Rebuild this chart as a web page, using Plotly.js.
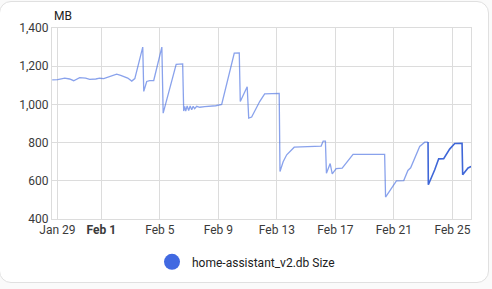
<!DOCTYPE html>
<html>
<head>
<meta charset="utf-8">
<script src="https://cdn.plot.ly/plotly-3.0.1.min.js"></script>
<style>
  html, body { margin: 0; padding: 0; background: #fafafa; }
  #card { position: absolute; left: -1px; top: 1px; width: 488px; height: 280px;
          background: #ffffff; border: 1px solid #e0e0e0; border-radius: 12px; }
  #chart { position: absolute; left: 0; top: 0; width: 492px; height: 289px; }
</style>
</head>
<body>
<div id="card"></div>
<div id="chart"></div>
<script>
// Database size (MB), older hourly statistics
const olderTimes = [
  "2024-01-28 15:30","2024-01-29 00:30","2024-01-29 12:00","2024-01-29 20:00","2024-01-30 02:40",
  "2024-01-30 12:30","2024-01-30 22:20","2024-01-31 05:00","2024-01-31 15:00","2024-01-31 21:20",
  "2024-02-01 04:00","2024-02-01 13:50","2024-02-01 20:20","2024-02-02 01:10","2024-02-02 07:50",
  "2024-02-02 14:30","2024-02-02 19:20","2024-02-03 02:00","2024-02-03 07:00","2024-02-03 20:00",
  "2024-02-03 21:40","2024-02-04 02:30","2024-02-04 07:30","2024-02-04 14:00","2024-02-05 03:20",
  "2024-02-05 05:30","2024-02-06 02:50","2024-02-06 13:30","2024-02-06 15:10","2024-02-06 16:50",
  "2024-02-06 18:30","2024-02-06 20:50","2024-02-06 23:20","2024-02-07 01:50","2024-02-07 04:20",
  "2024-02-07 06:40","2024-02-07 09:10","2024-02-07 12:30","2024-02-07 17:30","2024-02-08 01:40",
  "2024-02-08 09:50","2024-02-08 19:40","2024-02-09 05:30","2024-02-10 02:10","2024-02-10 10:20",
  "2024-02-10 12:00","2024-02-10 23:20","2024-02-11 01:50","2024-02-11 06:40","2024-02-11 19:50",
  "2024-02-12 04:00","2024-02-13 03:50","2024-02-13 05:10","2024-02-13 10:20","2024-02-13 16:10",
  "2024-02-14 04:30","2024-02-16 00:40","2024-02-16 04:00","2024-02-16 07:40","2024-02-16 09:20",
  "2024-02-16 15:30","2024-02-16 18:50","2024-02-17 01:20","2024-02-17 11:10","2024-02-18 05:00",
  "2024-02-20 08:50","2024-02-20 10:20","2024-02-20 20:00","2024-02-21 04:10","2024-02-21 16:10",
  "2024-02-21 23:00","2024-02-22 03:30","2024-02-22 10:10","2024-02-22 18:20","2024-02-23 02:40",
  "2024-02-23 08:00"
];
const olderValues = [
  1128,1130,1137,1133,1124,
  1140,1138,1131,1133,1137,
  1135,1144,1152,1158,1152,
  1145,1138,1122,1135,1300,
  1068,1120,1124,1125,1300,
  954,1210,1212,965,990,
  965,992,968,992,972,
  990,978,990,985,988,
  990,993,1000,1268,1270,
  1015,1092,928,934,1015,
  1055,1058,649,700,736,
  776,782,808,808,640,
  690,636,664,666,738,
  738,515,562,600,601,
  654,668,719,780,802,
  803
];
// Database size (MB), recent short-term statistics
const recentTimes = [
  "2024-02-23 08:00","2024-02-23 08:30","2024-02-23 19:00","2024-02-24 01:30","2024-02-24 09:40",
  "2024-02-24 19:30","2024-02-25 03:50","2024-02-25 15:50","2024-02-25 16:50","2024-02-26 01:40",
  "2024-02-26 06:40"
];
const recentValues = [803,579,658,715,716,766,795,796,632,667,675];

const tickDates = ["2024-01-29","2024-02-01","2024-02-05","2024-02-09","2024-02-13","2024-02-17","2024-02-21","2024-02-25"];
const tickLabels = ["Jan 29","<b>Feb 1</b>","Feb 5","Feb 9","Feb 13","Feb 17","Feb 21","Feb 25"];
const yTicks = [400,600,800,1000,1200,1400];
const seriesName = "home-assistant_v2.db Size";
const unitLabel = "MB";

const traces = [
  { type: "scatter", mode: "lines", x: olderTimes, y: olderValues, showlegend: false,
    line: { color: "rgba(65,105,225,0.62)", width: 1.3 }, hoverinfo: "skip" },
  { type: "scatter", mode: "lines", x: recentTimes, y: recentValues, showlegend: false,
    line: { color: "#3f67d8", width: 1.6 }, hoverinfo: "skip" },
  { type: "scatter", mode: "markers", x: [null], y: [null], name: seriesName, showlegend: true,
    marker: { color: "#4169e1", size: 16, symbol: "circle" } }
];

const layout = {
  width: 492, height: 289,
  margin: { l: 52, r: 21, t: 28, b: 70 },
  paper_bgcolor: "rgba(0,0,0,0)",
  plot_bgcolor: "rgba(0,0,0,0)",
  font: { family: "Roboto, sans-serif", size: 12, color: "#3a3a3a" },
  xaxis: {
    type: "date",
    range: ["2024-01-28 15:08", "2024-02-26 06:30"],
    tickmode: "array", tickvals: tickDates, ticktext: tickLabels,
    showgrid: true, gridcolor: "#dcdcdc", gridwidth: 1,
    showline: true, linecolor: "#dcdcdc", mirror: true,
    zeroline: false, ticks: "", fixedrange: true,
    tickfont: { size: 12, color: "#3a3a3a" }
  },
  yaxis: {
    range: [400, 1400],
    tickmode: "array", tickvals: yTicks,
    tickformat: ",",
    showgrid: true, gridcolor: "#dcdcdc", gridwidth: 1,
    showline: true, linecolor: "#dcdcdc", mirror: true,
    zeroline: false, ticks: "", fixedrange: true,
    tickfont: { size: 12, color: "#3a3a3a" }
  },
  showlegend: true,
  legend: {
    orientation: "h", xref: "container", yref: "container",
    x: 0.5, xanchor: "center", y: 0.094, yanchor: "middle",
    font: { size: 12, color: "#212121" }, itemwidth: 30
  },
  annotations: [
    { text: unitLabel, xref: "paper", yref: "paper", x: 0, y: 1, xanchor: "left", yanchor: "bottom",
      yshift: 3, showarrow: false, font: { size: 12, color: "#212121" } }
  ]
};

Plotly.newPlot("chart", traces, layout, { displayModeBar: false, staticPlot: true });
</script>
</body>
</html>
